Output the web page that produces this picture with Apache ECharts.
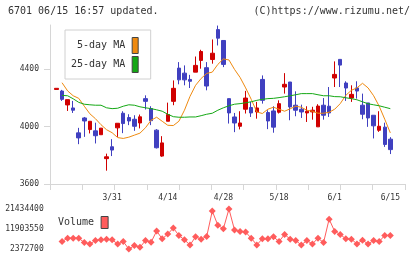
<!DOCTYPE html>
<html>
<head>
    <meta charset="utf-8">
    <title>6701 chart</title>
    <script src="https://cdn.jsdelivr.net/npm/echarts@6/dist/echarts.min.js"></script>
    <style>
        html, body { margin: 0; padding: 0; background: #fff; }
        #chart1 { width: 420px; height: 259px; }
    </style>
</head>
<body>
<div id="chart1"></div>
<script>
    // trading days 2020/3/16 - 6/15
    var dates = ['3/16','3/17','3/18','3/19','3/23','3/24','3/25','3/26','3/27','3/30',
        '3/31','4/1','4/2','4/3','4/6','4/7','4/8','4/9','4/10','4/13',
        '4/14','4/15','4/16','4/17','4/20','4/21','4/22','4/23','4/24','4/27',
        '4/28','4/30','5/1','5/7','5/8','5/11','5/12','5/13','5/14','5/15',
        '5/18','5/19','5/20','5/21','5/22','5/25','5/26','5/27','5/28','5/29',
        '6/1','6/2','6/3','6/4','6/5','6/8','6/9','6/10','6/11','6/12','6/15'];
    var labelDates = ['3/31','4/14','4/28','5/18','6/1','6/15'];

    var opens  = [4260,4249,4152,4131,3957,4061,3980,3971,3944,3777,3860,3992,4094,4064,4052,4026,4196,4127,3976,3795,
                  4038,4177,4409,4374,4330,4381,4463,4412,4469,4678,4602,4196,4068,4003,4122,4134,4103,4330,4099,4110,
                  4101,4277,4312,4150,4122,4096,4103,3999,4150,4143,4340,4470,4305,4200,4271,4150,4166,4080,3975,3997,3913];
    var closes = [4268,4191,4189,4115,3922,4040,4038,3937,3990,3790,3837,4024,4022,4040,4003,4069,4177,4042,3853,3887,
                  4085,4268,4327,4327,4317,4428,4525,4284,4513,4618,4435,4096,4026,4026,4200,4096,4131,4184,4040,3997,
                  4161,4296,4138,4115,4103,4108,4115,4144,4080,4096,4365,4430,4270,4226,4249,4087,4061,4006,4003,3876,3840];
    var lows   = [4260,4180,4110,4096,3878,3929,3953,3883,3944,3693,3795,3929,3955,4011,3971,3988,4120,4011,3848,3790,
                  4038,4150,4296,4289,4270,4381,4405,4254,4440,4567,4416,4022,3962,3981,4092,4068,4056,4161,3983,3958,
                  4092,4231,4045,4073,4061,4033,4049,3999,4049,4068,4277,4277,4180,4173,4196,4052,3999,3918,3964,3859,3809];
    var highs  = [4268,4257,4189,4180,3992,4068,4038,4028,3990,3812,3913,4024,4108,4087,4080,4085,4219,4143,3983,3934,
                  4168,4323,4451,4428,4362,4490,4537,4451,4609,4706,4602,4196,4096,4108,4250,4173,4173,4358,4115,4143,
                  4184,4374,4312,4247,4154,4143,4139,4157,4200,4277,4456,4470,4317,4289,4317,4231,4166,4080,4108,4028,3927];

    var ma5  = ['-',4307,4250,4216,4198,4143,4090,4056,4014,3979,3958,3924,3918,3927,3941,3955,3993,4045,4066,4038,
                4010,4008,4038,4115,4212,4289,4337,4372,4381,4435,4473,4466,4400,4344,4271,4191,4103,4092,4122,4136,
                4122,4108,4125,4143,4136,4115,4108,4094,4094,4101,4122,4161,4219,4254,4271,4303,4271,4216,4143,4052,3957];
    var ma25 = ['-',4219,4216,4195,4170,4157,4153,4150,4150,4132,4126,4129,4143,4153,4150,4139,4132,4126,4118,4108,
                4087,4070,4066,4066,4068,4068,4077,4087,4094,4115,4132,4146,4157,4161,4167,4174,4184,4191,4196,4198,
                4203,4209,4216,4223,4231,4231,4231,4223,4216,4216,4210,4209,4202,4196,4188,4174,4160,4153,4146,4136,4126];

    // volume starts on the second day
    var volume = [5930000,7540000,7540000,7540000,5440000,4800000,6410000,6730000,7060000,6730000,
                  4800000,5930000,2372700,3990000,3180000,6410000,5600000,10930000,7220000,9480000,
                  12390000,8830000,6730000,4310000,8190000,7060000,8350000,20470000,13680000,12070000,
                  21434400,11420000,10770000,10450000,7540000,4310000,7220000,7220000,8190000,5930000,
                  9320000,7060000,6410000,4310000,6410000,4800000,7540000,5440000,16590000,10770000,
                  9320000,7220000,7060000,4800000,6570000,4800000,6410000,5930000,8830000,8830000];
    var volTicks = [2372700, 11903550, 21434400];
    var priceTicks = [3600, 4000, 4400];

    var candles = [];
    for (var i = 0; i < dates.length; i++) {
        candles.push([opens[i], closes[i], lows[i], highs[i]]);
    }

    var mono = 'DejaVu Sans Mono';
    var axisGray = '#d6d6d6';
    var plain = function (v) { return String(v); };

    var myChart1 = echarts.init(document.getElementById('chart1'));
    myChart1.setOption({
        backgroundColor: '#fff',
        animation: false,
        title: [{
            text: '6701 06/15 16:57 updated.',
            left: 8, top: 6, padding: 0,
            textStyle: {fontFamily: mono, fontSize: 10, fontWeight: 'normal', color: '#333'}
        }, {
            text: '(C)https://www.rizumu.net/',
            right: 10, top: 6, padding: 0,
            textStyle: {fontFamily: mono, fontSize: 10, fontWeight: 'normal', color: '#333'}
        }],
        legend: [{
            data: ['5-day MA', '25-day MA'],
            orient: 'vertical',
            left: 65, top: 30,
            align: 'right',
            icon: 'rect',
            itemWidth: 6, itemHeight: 16, itemGap: 2,
            padding: [7, 12, 6, 6],
            borderColor: '#d0d0d0', borderWidth: 1,
            backgroundColor: '#fff',
            itemStyle: {borderColor: '#444', borderWidth: 1},
            formatter: function (name) { return name.length < 9 ? ' ' + name : name; },
            textStyle: {fontFamily: mono, fontSize: 10, color: '#333', padding: [0, 2, 0, 0]}
        }, {
            data: ['Volume'],
            left: 58, top: 216,
            align: 'right',
            icon: 'rect',
            itemWidth: 7, itemHeight: 12,
            padding: 0,
            itemStyle: {borderColor: '#444', borderWidth: 1},
            textStyle: {fontFamily: mono, fontSize: 10, color: '#333', padding: [0, 2, 0, 0]}
        }],
        grid: [
            {left: 50, right: 15, top: 25, bottom: 75},
            {left: 53.7, right: 26.9, top: 25, bottom: 75},
            {left: 53.7, right: 26.9, top: 209, bottom: 10}
        ],
        xAxis: [{
            gridIndex: 0, type: 'value', min: 0, max: 11, interval: 1,
            axisLine: {lineStyle: {color: axisGray}},
            axisTick: {length: 6, lineStyle: {color: axisGray}},
            axisLabel: {show: false},
            splitLine: {show: false}
        }, {
            gridIndex: 1, type: 'category', data: dates, boundaryGap: true,
            axisLine: {show: false},
            axisTick: {show: false},
            axisLabel: {
                interval: function (idx, val) { return labelDates.indexOf(val) >= 0; },
                fontFamily: mono, fontSize: 8, color: '#333', margin: 10
            },
            splitLine: {show: false}
        }, {
            gridIndex: 2, type: 'category', data: dates, boundaryGap: true, show: false
        }],
        yAxis: [{
            gridIndex: 0, type: 'value', min: 3600, max: 4710,
            axisLine: {show: true, lineStyle: {color: axisGray}},
            axisTick: {show: true, length: 6, customValues: priceTicks, lineStyle: {color: axisGray}},
            axisLabel: {customValues: priceTicks, formatter: plain, fontFamily: mono, fontSize: 8, color: '#333', margin: 11},
            splitLine: {show: false}
        }, {
            gridIndex: 1, type: 'value', min: 3600, max: 4710, show: false, splitLine: {show: false}
        }, {
            gridIndex: 2, type: 'value', min: 2372700, max: 21434400,
            axisLine: {show: false},
            axisTick: {show: false},
            axisLabel: {customValues: volTicks, formatter: plain, fontFamily: mono, fontSize: 8, color: '#333', margin: 10},
            splitLine: {show: false}
        }],
        series: [{
            name: 'price',
            type: 'candlestick',
            xAxisIndex: 1, yAxisIndex: 1,
            barWidth: 4,
            data: candles,
            itemStyle: {
                color: '#d00000', color0: '#4040c0',
                borderColor: '#d00000', borderColor0: '#4040c0',
                borderWidth: 1
            }
        }, {
            name: '5-day MA',
            type: 'line',
            xAxisIndex: 1, yAxisIndex: 1,
            data: ma5,
            symbol: 'none',
            itemStyle: {color: '#ef8a10'},
            lineStyle: {color: '#ef8a10', width: 1}
        }, {
            name: '25-day MA',
            type: 'line',
            xAxisIndex: 1, yAxisIndex: 1,
            data: ma25,
            symbol: 'none',
            itemStyle: {color: '#14a814'},
            lineStyle: {color: '#14a814', width: 1}
        }, {
            name: 'Volume',
            type: 'line',
            xAxisIndex: 2, yAxisIndex: 2,
            data: ['-'].concat(volume),
            symbol: 'diamond',
            symbolSize: 7,
            showAllSymbol: true,
            itemStyle: {color: '#ff5c5c'},
            lineStyle: {color: '#ff5c5c', width: 1}
        }]
    });
</script>
</body>
</html>
